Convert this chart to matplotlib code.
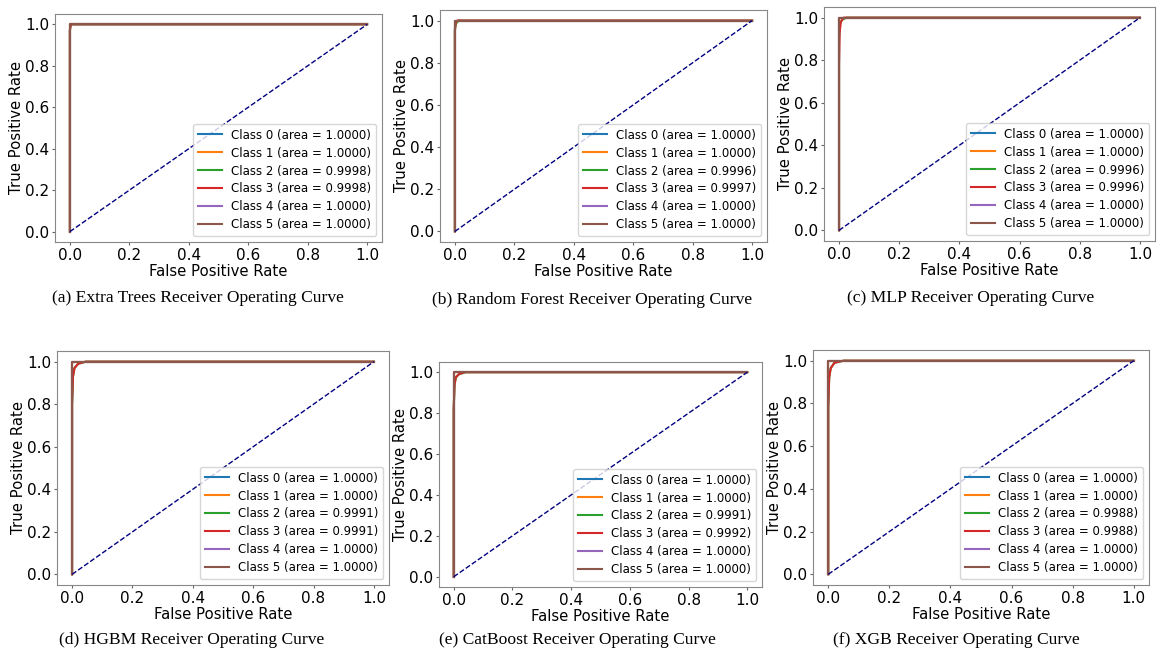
import matplotlib
matplotlib.use("Agg")
import matplotlib.pyplot as plt

# models, captions and AUC per class
models = ["Extra Trees", "Random Forest", "MLP", "HGBM", "CatBoost", "XGB"]
letters = ["a", "b", "c", "d", "e", "f"]
areas = [
    [1.0000, 1.0000, 0.9998, 0.9998, 1.0000, 1.0000],
    [1.0000, 1.0000, 0.9996, 0.9997, 1.0000, 1.0000],
    [1.0000, 1.0000, 0.9996, 0.9996, 1.0000, 1.0000],
    [1.0000, 1.0000, 0.9991, 0.9991, 1.0000, 1.0000],
    [1.0000, 1.0000, 0.9991, 0.9992, 1.0000, 1.0000],
    [1.0000, 1.0000, 0.9988, 0.9988, 1.0000, 1.0000],
]

# perfect classes
fpr_perfect = [0, 0, 1]
tpr_perfect = [0, 1, 1]

# estimated ROC points for classes 2 and 3 of each model
fpr_c2 = [
    [0, 0, 0.002, 0.006, 1],
    [0, 0, 0.004, 0.012, 1],
    [0, 0, 0.003, 0.010, 0.025, 1],
    [0, 0, 0.003, 0.008, 0.020, 0.045, 1],
    [0, 0, 0.003, 0.008, 0.018, 0.040, 1],
    [0, 0, 0.003, 0.008, 0.020, 0.050, 1],
]
tpr_c2 = [
    [0, 0.97, 0.99, 1, 1],
    [0, 0.96, 0.985, 1, 1],
    [0, 0.90, 0.97, 0.99, 1, 1],
    [0, 0.80, 0.93, 0.97, 0.99, 1, 1],
    [0, 0.82, 0.94, 0.975, 0.99, 1, 1],
    [0, 0.78, 0.92, 0.965, 0.99, 1, 1],
]
fpr_c3 = [
    [0, 0, 0.002, 0.005, 1],
    [0, 0, 0.003, 0.008, 1],
    [0, 0, 0.002, 0.006, 0.015, 1],
    [0, 0, 0.003, 0.008, 0.020, 0.045, 1],
    [0, 0, 0.003, 0.007, 0.017, 0.038, 1],
    [0, 0, 0.003, 0.008, 0.020, 0.050, 1],
]
tpr_c3 = [
    [0, 0.97, 0.99, 1, 1],
    [0, 0.95, 0.99, 1, 1],
    [0, 0.78, 0.93, 0.98, 1, 1],
    [0, 0.80, 0.93, 0.97, 0.99, 1, 1],
    [0, 0.82, 0.94, 0.975, 0.99, 1, 1],
    [0, 0.78, 0.92, 0.965, 0.99, 1, 1],
]

# axes boxes in pixels: left, top, right, bottom
boxes = [
    (55, 14, 382, 242), (440, 10, 767, 242), (824, 7, 1155, 241),
    (57, 351, 389, 585), (439, 362, 762, 587), (813, 350, 1149, 585),
]
captions_xy = [(198, 298), (592, 300), (971, 298), (192, 640), (577, 640), (956, 640)]

W, H = 1157, 652
fig = plt.figure(figsize=(W / 100, H / 100), dpi=100)

for m in range(6):
    l, t, r, b = boxes[m]
    ax = fig.add_axes([l / W, (H - b) / H, (r - l) / W, (b - t) / H])
    for c in range(6):
        if c == 2:
            fx, ty = fpr_c2[m], tpr_c2[m]
        elif c == 3:
            fx, ty = fpr_c3[m], tpr_c3[m]
        else:
            fx, ty = fpr_perfect, tpr_perfect
        ax.plot(fx, ty, color="C%d" % c, lw=1.5,
                label="Class %d (area = %.4f)" % (c, areas[m][c]))
    ax.plot([0, 1], [0, 1], color="navy", lw=1, linestyle="--")
    ax.set_xlabel("False Positive Rate", fontsize=10.7, labelpad=1)
    ax.set_ylabel("True Positive Rate", fontsize=10.7, labelpad=1)
    ax.tick_params(labelsize=11, color="#666666", length=2.5, pad=1.5)
    for s in ax.spines.values():
        s.set_color("#888888")
    ax.legend(loc="lower right", fontsize=8.5, labelspacing=0.42)
    cx, cy = captions_xy[m]
    fig.text(cx / W, (H - cy) / H, "(%s) %s Receiver Operating Curve" % (letters[m], models[m]),
             ha="center", va="center", fontsize=12.6, family="Liberation Serif")

fig.savefig("out.png", dpi=100)
